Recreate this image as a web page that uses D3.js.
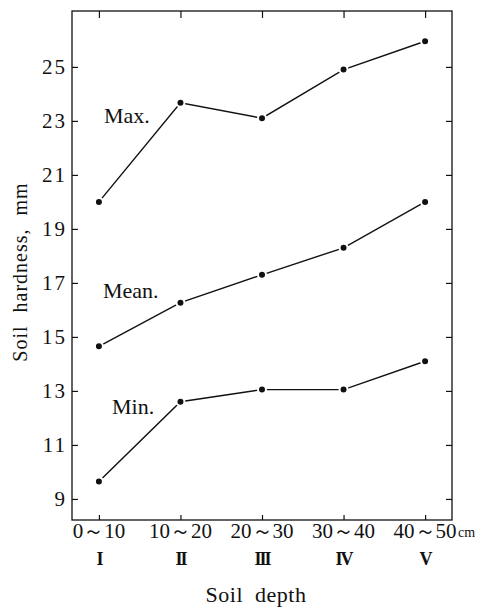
<!DOCTYPE html>
<html><head><meta charset="utf-8">
<script src="https://cdn.jsdelivr.net/npm/d3@7"></script>
<style>
html,body{margin:0;padding:0;background:#fff;}
</style></head>
<body><svg id="c" width="490" height="611"></svg>
<script>
const depths = ["0～10","10～20","20～30","30～40","40～50"];
const layers = ["I","II","III","IV","V"];
const maxVals  = [20.0, 23.67, 23.1, 24.9, 25.95];
const meanVals = [14.65, 16.27, 17.3, 18.3, 20.0];
const minVals  = [9.65, 12.6, 13.05, 13.05, 14.1];
const yTicks = [9, 11, 13, 15, 17, 19, 21, 23, 25];
const seriesNames = ["Max.","Mean.","Min."];

const FONT = "'DejaVu Serif', 'Liberation Serif', serif";
const FONT2 = "'Liberation Serif', 'Times New Roman', serif";
const svg = d3.select("#c");
const L = 72, R = 452, T = 11, B = 520;
const x = d3.scalePoint().domain(d3.range(depths.length)).range([L, R]).padding(0.33);
const y = d3.scaleLinear().domain([8.22, 27.07]).range([B, T]);

svg.append("rect").attr("x", L).attr("y", T).attr("width", R - L).attr("height", B - T)
  .attr("fill", "none").attr("stroke", "#111").attr("stroke-width", 1.3);

const axL = svg.append("g").attr("transform", `translate(${L},0)`)
  .call(d3.axisRight(y).tickValues(yTicks).tickSize(6).tickFormat(""));
const axR = svg.append("g").attr("transform", `translate(${R},0)`)
  .call(d3.axisLeft(y).tickValues(yTicks).tickSize(6).tickFormat(""));
const axT = svg.append("g").attr("transform", `translate(0,${T})`)
  .call(d3.axisBottom(x).tickSize(7).tickFormat(""));
const axB = svg.append("g").attr("transform", `translate(0,${B})`)
  .call(d3.axisTop(x).tickSize(5).tickFormat(""));
[axL, axR, axT, axB].forEach(g => {
  g.select(".domain").remove();
  g.selectAll(".tick line").attr("stroke", "#111").attr("stroke-width", 1.2);
});

svg.append("g").selectAll("text").data(yTicks).join("text")
  .attr("font-family", FONT2).attr("fill", "#111")
  .attr("x", L - 5).attr("y", d => y(d)).attr("dy", "0.35em")
  .attr("text-anchor", "end").attr("font-size", 21).attr("letter-spacing", 2)
  .text(d => d);

svg.append("g").selectAll("text").data(depths).join("text")
  .attr("font-family", FONT2).attr("fill", "#111")
  .attr("x", (d, i) => x(i)).attr("y", 538).attr("text-anchor", "middle")
  .attr("font-size", 21).text(d => d);
svg.append("text").attr("font-family", FONT2).attr("fill", "#111")
  .attr("x", x(depths.length - 1) + 33).attr("y", 537)
  .attr("font-size", 14).text("cm");
svg.append("g").selectAll("text").data(layers).join("text")
  .attr("font-family", FONT2).attr("fill", "#111")
  .attr("x", (d, i) => x(i)).attr("y", 565).attr("text-anchor", "middle")
  .attr("font-size", 18).attr("font-weight", "bold").attr("letter-spacing", -2)
  .text(d => d);

svg.append("text").attr("font-family", FONT2).attr("fill", "#111")
  .attr("x", 256).attr("y", 602).attr("text-anchor", "middle")
  .attr("font-size", 22).attr("word-spacing", 6).attr("letter-spacing", 0.5).text("Soil depth");
svg.append("text").attr("font-family", FONT2).attr("fill", "#111")
  .attr("transform", "translate(27,272) rotate(-90)")
  .attr("text-anchor", "middle").attr("font-size", 20).attr("word-spacing", 7)
  .attr("letter-spacing", 1).text("Soil hardness, mm");

const series = [maxVals, meanVals, minVals];
const line = d3.line().x((d, i) => x(i)).y(d => y(d));
series.forEach(vals => {
  svg.append("path").datum(vals).attr("d", line)
    .attr("fill", "none").attr("stroke", "#111").attr("stroke-width", 1.4);
  svg.append("g").selectAll("circle").data(vals).join("circle")
    .attr("cx", (d, i) => x(i)).attr("cy", d => y(d)).attr("r", 4)
    .attr("fill", "#111").attr("stroke", "#fff").attr("stroke-width", 2);
});

const labelPos = [[104, 123], [103, 298], [112, 414]];
svg.append("g").selectAll("text").data(seriesNames).join("text")
  .attr("font-family", FONT2).attr("fill", "#111")
  .attr("x", (d, i) => labelPos[i][0]).attr("y", (d, i) => labelPos[i][1])
  .attr("font-size", 22).text(d => d);
</script></body></html>
